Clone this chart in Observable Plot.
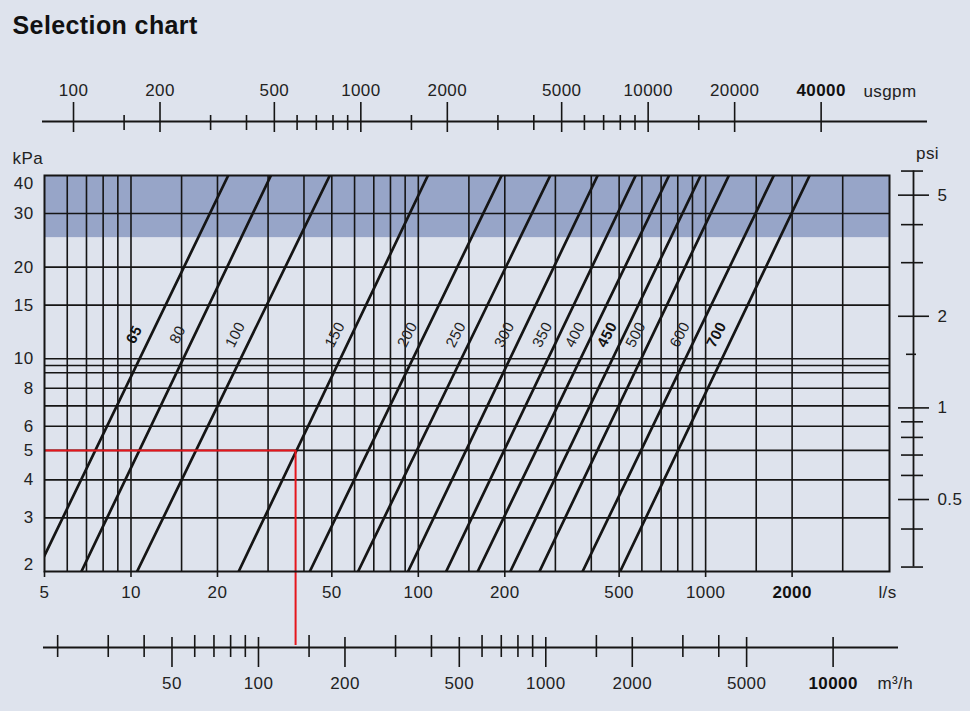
<!DOCTYPE html>
<html><head><meta charset="utf-8">
<script src="https://cdn.jsdelivr.net/npm/d3@7"></script>
<script src="https://cdn.jsdelivr.net/npm/@observablehq/plot@0.6"></script>
<style>
html,body{margin:0;padding:0;background:#dee3ed;}
#chart svg{display:block;}
#chart svg text{letter-spacing:0.4px;}
</style></head>
<body><div id="chart"></div>
<script>
// ---- data ----
const title = "Selection chart";
const xDomain = [5, 4365];          // l/s
const yDomain = [2, 40];            // kPa
const shadeBand = [25, 40];         // kPa
const xGrid = [6,7,8,9,10,15,20,30,40,50,60,70,80,90,100,150,200,300,400,500,600,700,800,900,1000,1500,2000,3000];
const yGrid = [3,4,5,6,7,8,9,9.5,10,15,20,30];
const lsTicks = [5,10,20,50,100,200,500,1000];
const lsBoldTicks = [2000];
const kpaTicks = [3,4,5,6,8,10,15,20,30];
const kpaTop = [40];
const kpaBottom = [2];
const usgpmMajor = [100,200,500,1000,2000,5000,10000,20000];
const usgpmBold = [40000];
const usgpmMinor = [150,300,400,600,700,800,900,1500,3000,4000,6000,7000,8000,9000,15000];
const m3hMajor = [50,100,200,500,1000,2000,5000];
const m3hBold = [10000];
const m3hMinor = [20,30,40,60,70,80,90,150,300,400,600,700,800,900,1500,3000,4000];
const psiMajor = [5,2,1,0.5];
const psiMinor = [6,4,3,0.9,0.8,0.7,0.6,0.4,0.3];
const psiShort = [1.5];
const psiRange = [0.3, 6];
const sizes       = [65, 80, 100, 150, 200, 250, 300, 350, 400, 450, 500, 600, 700];
const boldSizes   = [65, 450, 700];
const flowAt2kPa  = [4.70, 6.72, 10.5, 23.7, 41.9, 61.7, 92.1, 125, 161, 209, 264, 373, 504];
const flowAt40kPa = [21.8, 30.7, 49.2, 108, 195, 288, 421, 571, 746, 961, 1205, 1727, 2302];
const labelKpa = 12;
const redFlow = 37.4;   // l/s
const redKpa = 5;
const LS_PER_USGPM = 1 / 15.8503;
const LS_PER_M3H = 1 / 3.6;
const KPA_PER_PSI = 6.89476;

// ---- derived tables ----
const lineRows = sizes.flatMap((s, i) => [
  {size: s, q: flowAt2kPa[i], p: 2},
  {size: s, q: flowAt40kPa[i], p: 40}
]);
const t = Math.log(labelKpa / 2) / Math.log(40 / 2);
const labelRows = sizes.map((s, i) => ({
  size: s,
  q: Math.exp(Math.log(flowAt2kPa[i]) + t * (Math.log(flowAt40kPa[i]) - Math.log(flowAt2kPa[i]))),
  p: labelKpa,
  bold: boldSizes.includes(s)
}));

const ink = "#151515";
const txt = "#222";
const font = "'Liberation Sans', Arial, Helvetica, sans-serif";
const fs = 17;
const fmtInt = d => String(Math.round(d));
const xMin = xDomain[0], xMax = xDomain[1], yMin = yDomain[0], yMax = yDomain[1];

// helpers for secondary-scale ticks (values converted into l/s or kPa)
const usg = v => v * LS_PER_USGPM;
const m3h = v => v * LS_PER_M3H;
const psi = v => v * KPA_PER_PSI;

const chart = Plot.plot({
  width: 970, height: 711,
  marginTop: 175, marginBottom: 140, marginLeft: 44, marginRight: 81,
  style: {background: "#dee3ed", fontFamily: font, fontSize: fs + "px", color: txt, overflow: "visible"},
  x: {type: "log", domain: xDomain, axis: null},
  y: {type: "log", domain: yDomain, axis: null},
  marks: [
    Plot.rect([0], {x1: xMin, x2: xMax, y1: shadeBand[0], y2: shadeBand[1], fill: "#97a5c8"}),
    Plot.ruleX(xGrid, {stroke: ink, strokeWidth: 1.6}),
    Plot.ruleY(yGrid, {stroke: ink, strokeWidth: 1.6}),
    Plot.line(lineRows, {x: "q", y: "p", z: "size", stroke: ink, strokeWidth: 2.7, clip: true}),
    Plot.ruleY([redKpa], {x1: xMin, x2: redFlow, stroke: "#e5161c", strokeWidth: 2}),
    Plot.ruleX([redFlow], {y1: redKpa, y2: yMin, insetBottom: -74, stroke: "#e5161c", strokeWidth: 2}),
    Plot.frame({stroke: ink, strokeWidth: 2}),

    // pipe size labels along the lines
    Plot.text(labelRows.filter(d => !d.bold), {x: "q", y: "p", text: d => String(d.size), rotate: -63, dx: -17, fontSize: 15, fill: txt}),
    Plot.text(labelRows.filter(d => d.bold), {x: "q", y: "p", text: d => String(d.size), rotate: -63, dx: -17, fontSize: 15, fontWeight: "bold", fill: "#111"}),

    // l/s axis along frame bottom
    Plot.ruleX([...lsTicks, ...lsBoldTicks], {y1: yMin, y2: yMin, insetBottom: -6, stroke: ink, strokeWidth: 1.6}),
    Plot.text(lsTicks, {x: d => d, y: yMin, dy: 21, text: fmtInt}),
    Plot.text(lsBoldTicks, {x: d => d, y: yMin, dy: 21, text: fmtInt, fontWeight: "bold", fill: "#111"}),
    Plot.text(["l/s"], {frameAnchor: "bottom-right", lineAnchor: "middle", dx: -2, dy: 21, textAnchor: "middle"}),

    // kPa labels on the left
    Plot.text(kpaTicks, {x: xMin, y: d => d, dx: -11, textAnchor: "end", text: fmtInt}),
    Plot.text(kpaTop, {x: xMin, y: d => d, dx: -11, dy: 8, textAnchor: "end", text: fmtInt}),
    Plot.text(kpaBottom, {x: xMin, y: d => d, dx: -11, dy: -7, textAnchor: "end", text: fmtInt}),
    Plot.text(["kPa"], {frameAnchor: "top-left", lineAnchor: "middle", dx: -32, dy: -17, textAnchor: "start"}),

    // usgpm axis (top)
    Plot.ruleY([yMax], {x1: xMin, x2: xMax, dy: -54, insetLeft: -2, insetRight: -38, stroke: ink, strokeWidth: 1.8}),
    Plot.ruleX(usgpmMinor, {x: usg, y1: yMax, y2: yMax, insetTop: -60, insetBottom: 45, stroke: ink, strokeWidth: 1.6}),
    Plot.ruleX([...usgpmMajor, ...usgpmBold], {x: usg, y1: yMax, y2: yMax, insetTop: -73, insetBottom: 43, stroke: ink, strokeWidth: 1.6}),
    Plot.text(usgpmMajor, {x: usg, y: yMax, dy: -85, text: fmtInt}),
    Plot.text(usgpmBold, {x: usg, y: yMax, dy: -85, text: fmtInt, fontWeight: "bold", fill: "#111"}),
    Plot.text(["usgpm"], {frameAnchor: "top-right", lineAnchor: "middle", dx: -26, dy: -84, textAnchor: "start"}),

    // m3/h axis (bottom)
    Plot.ruleY([yMin], {x1: xMin, x2: xMax, dy: 76, insetLeft: -1, insetRight: -9, stroke: ink, strokeWidth: 1.8}),
    Plot.ruleX(m3hMinor, {x: m3h, y1: yMin, y2: yMin, insetTop: 64, insetBottom: -86, stroke: ink, strokeWidth: 1.6}),
    Plot.ruleX([...m3hMajor, ...m3hBold], {x: m3h, y1: yMin, y2: yMin, insetTop: 66, insetBottom: -96, stroke: ink, strokeWidth: 1.6}),
    Plot.text(m3hMajor, {x: m3h, y: yMin, dy: 112, text: fmtInt}),
    Plot.text(m3hBold, {x: m3h, y: yMin, dy: 112, text: fmtInt, fontWeight: "bold", fill: "#111"}),
    Plot.text(["m³/h"], {frameAnchor: "bottom-right", lineAnchor: "middle", dx: -12, dy: 112, textAnchor: "start"}),

    // psi axis (right)
    Plot.ruleX([xMax], {dx: 24, y1: psi(psiRange[0]), y2: psi(psiRange[1]), stroke: ink, strokeWidth: 1.8}),
    Plot.ruleY(psiMinor, {y: psi, x1: xMax, x2: xMax, insetLeft: 12, insetRight: -34, stroke: ink, strokeWidth: 1.6}),
    Plot.ruleY(psiShort, {y: psi, x1: xMax, x2: xMax, insetLeft: 17, insetRight: -27, stroke: ink, strokeWidth: 1.6}),
    Plot.ruleY(psiMajor, {y: psi, x1: xMax, x2: xMax, insetLeft: 9, insetRight: -40, stroke: ink, strokeWidth: 1.6}),
    Plot.text(psiMajor, {x: xMax, y: psi, dx: 48, textAnchor: "start", text: d => String(d)}),
    Plot.text(["psi"], {frameAnchor: "top-right", lineAnchor: "middle", dx: 38, dy: -22, textAnchor: "middle"}),

    // title
    Plot.text([title], {frameAnchor: "top-left", lineAnchor: "middle", dx: -32, dy: -150, textAnchor: "start", fontSize: 25, fontWeight: "bold", fill: "#111"})
  ]
});
document.getElementById("chart").appendChild(chart);
</script>
</body></html>
